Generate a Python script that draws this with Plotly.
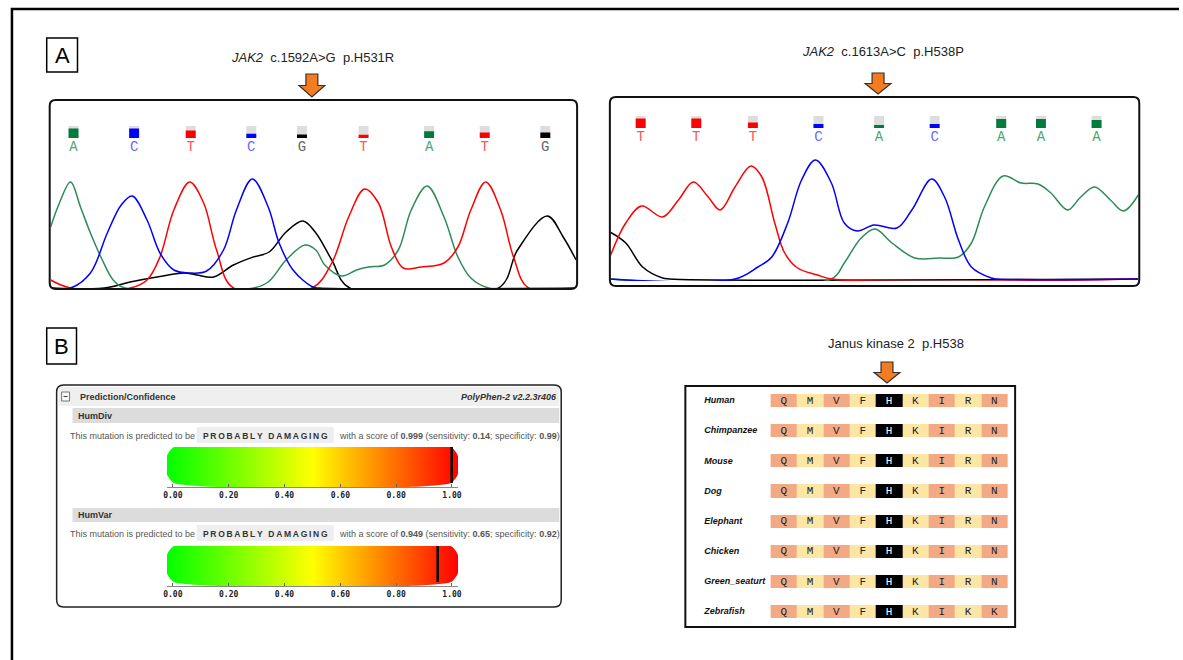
import plotly.graph_objects as go

W, H = 1183, 660
SANS = "Liberation Sans, Arial, sans-serif"
MONO = "Liberation Mono, Courier New, monospace"

# ---------------- Panel A, chromatogram 1 : JAK2 c.1592A>G p.H531R ----------------
c1_bases = ["A", "C", "T", "C", "G", "T", "A", "T", "G"]
c1_pos = [24, 85, 142, 203, 254, 316, 382, 438, 499]
c1_qual = [0.8, 0.8, 0.62, 0.35, 0.3, 0.27, 0.57, 0.46, 0.46]
c1_A_x = [1, 9, 21, 31, 41, 53, 64, 76, 205, 220, 238, 257, 268, 277, 294, 309, 321, 337, 351, 364, 380, 397, 411, 424, 442, 530]
c1_A_y = [61, 83, 106, 81, 55, 28, 8, 0, 0, 6, 28, 43, 38, 23, 12, 18, 21, 23, 38, 78, 102, 71, 31, 10, 0, 0]
c1_C_x = [1, 21, 41, 58, 72, 83, 98, 111, 125, 141, 158, 175, 188, 204, 220, 231, 245, 265, 272, 530]
c1_C_y = [0, 0, 15, 55, 83, 92, 68, 35, 18, 15, 17, 38, 78, 109, 81, 45, 18, 1, 0, 0]
c1_T_x = [1, 21, 81, 98, 111, 125, 141, 155, 168, 185, 264, 284, 301, 317, 331, 344, 356, 374, 397, 411, 424, 439, 454, 467, 482, 530]
c1_T_y = [8, 0, 0, 8, 31, 78, 106, 85, 38, 0, 0, 25, 71, 99, 85, 41, 20, 21, 25, 41, 78, 106, 78, 31, 0, 0]
c1_G_x = [1, 55, 81, 108, 135, 148, 165, 185, 205, 221, 238, 255, 268, 284, 302, 452, 471, 501, 517, 530]
c1_G_y = [0, 0, 6, 11, 15, 13, 11, 23, 31, 36, 56, 67, 55, 28, 0, 0, 38, 72, 51, 28]

# ---------------- Panel A, chromatogram 2 : JAK2 c.1613A>C p.H538P ----------------
c2_bases = ["T", "T", "T", "C", "A", "C", "A", "A", "A"]
c2_pos = [31, 87, 144, 210, 271, 327, 394, 434, 490]
c2_qual = [0.79, 0.79, 0.45, 0.34, 0.26, 0.34, 0.74, 0.74, 0.66]
c2_A_x = [0, 223, 236, 253, 267, 284, 307, 331, 351, 364, 377, 396, 414, 431, 444, 461, 474, 488, 504, 517, 532]
c2_A_y = [0, 0, 16, 41, 50, 36, 21, 21, 22, 36, 72, 103, 96, 95, 86, 69, 82, 92, 79, 68, 84]
c2_C_x = [0, 126, 149, 163, 179, 193, 207, 223, 236, 249, 266, 289, 304, 324, 337, 351, 364, 384, 390, 532]
c2_C_y = [0, 0, 12, 22, 56, 99, 119, 96, 56, 48, 54, 51, 69, 100, 82, 39, 12, 1, 0, 0]
c2_T_x = [0, 16, 32, 53, 69, 84, 99, 111, 126, 142, 153, 166, 176, 189, 209, 223, 532]
c2_T_y = [22, 56, 73, 62, 79, 97, 82, 69, 92, 113, 102, 56, 26, 11, 4, 0, 0]
c2_G_x = [0, 16, 33, 53, 60, 532]
c2_G_y = [47, 36, 12, 1, 0, 0]

# ---------------- Panel B, PolyPhen-2 ----------------
pp_names = ["HumDiv", "HumVar"]
pp_scores = [0.999, 0.949]
pp_sens = [0.14, 0.65]
pp_spec = [0.99, 0.92]
pp_call = ["PROBABLY DAMAGING", "PROBABLY DAMAGING"]
pp_ticks = [0.0, 0.2, 0.4, 0.6, 0.8, 1.0]

# ---------------- Panel B, conservation ----------------
aln_species = ["Human", "Chimpanzee", "Mouse", "Dog", "Elephant", "Chicken", "Green_seaturt", "Zebrafish"]
aln_positions = [534, 535, 536, 537, 538, 539, 540, 541, 542]
aln_seqs = ["QMVFHKIRN", "QMVFHKIRN", "QMVFHKIRN", "QMVFHKIRN",
            "QMVFHKIRN", "QMVFHKIRN", "QMVFHKIRN", "QMVFHKIKK"]
aln_col_class = [0, 1, 0, 1, 2, 1, 0, 1, 0]   # 0 salmon, 1 pale yellow, 2 highlighted site

TRACE_COL = {"A": "#2e8b57", "C": "#0000ff", "T": "#ff0000", "G": "#000000"}
SQ_COL = {"A": "#007a3d", "C": "#0000ff", "T": "#ff0000", "G": "#000000"}
LET_COL = {"A": "#4aa872", "C": "#6a6aff", "T": "#ff5555", "G": "#666666"}


def dx(px):
    return px / W


def dy(px):
    return 1 - px / H


def rrect(x0, y0, x1, y1, r):
    return (f"M{x0 + r},{y0} L{x1 - r},{y0} Q{x1},{y0} {x1},{y0 + r} L{x1},{y1 - r} "
            f"Q{x1},{y1} {x1 - r},{y1} L{x0 + r},{y1} Q{x0},{y1} {x0},{y1 - r} "
            f"L{x0},{y0 + r} Q{x0},{y0} {x0 + r},{y0} Z")


def arrow(cx, top, tip):
    hw, sw, hy = 13, 6, top + (tip - top) * 0.5
    return (f"M{cx - sw},{top} L{cx + sw},{top} L{cx + sw},{hy} L{cx + hw},{hy} "
            f"L{cx},{tip} L{cx - hw},{hy} L{cx - sw},{hy} Z")


fig = go.Figure()
# invisible canvas subplot (pixel coordinates) for frames and labels
fig.add_trace(go.Scatter(x=[None], y=[None], xaxis="x", yaxis="y", showlegend=False, hoverinfo="skip"))

shapes = []
annos = []


def chromatogram(xa, ya, ya_strip, bases, pos, qual, tr):
    for b in ["G", "A", "T", "C"]:
        xs, ys = tr[b]
        fig.add_trace(go.Scatter(x=xs, y=ys, xaxis=xa, yaxis=ya, mode="lines",
                                 line=dict(color=TRACE_COL[b], width=1.5, shape="spline", smoothing=1.0),
                                 showlegend=False, hoverinfo="skip"))
    fig.add_trace(go.Bar(x=pos, y=[1] * len(pos), xaxis=xa, yaxis=ya_strip, width=10,
                         marker=dict(color="#dddddd", line=dict(width=0)), showlegend=False, hoverinfo="skip"))
    fig.add_trace(go.Bar(x=pos, y=qual, xaxis=xa, yaxis=ya_strip, width=10,
                         marker=dict(color=[SQ_COL[b] for b in bases], line=dict(width=0)),
                         showlegend=False, hoverinfo="skip"))
    fig.add_trace(go.Scatter(x=pos, y=[-0.8] * len(pos), xaxis=xa, yaxis=ya_strip, mode="text",
                             text=bases, textfont=dict(family=MONO, size=14, color=[LET_COL[b] for b in bases]),
                             showlegend=False, hoverinfo="skip"))


chromatogram("x2", "y2", "y3", c1_bases, c1_pos, c1_qual,
             {"A": (c1_A_x, c1_A_y), "C": (c1_C_x, c1_C_y), "T": (c1_T_x, c1_T_y), "G": (c1_G_x, c1_G_y)})
chromatogram("x4", "y4", "y5", c2_bases, c2_pos, c2_qual,
             {"A": (c2_A_x, c2_A_y), "C": (c2_C_x, c2_C_y), "T": (c2_T_x, c2_T_y), "G": (c2_G_x, c2_G_y)})

# PolyPhen gradient bars
pp_axes = [("x6", "y6"), ("x7", "y7")]
for (xa, ya), s in zip(pp_axes, pp_scores):
    x0, x1 = -0.0214, 1.0214
    cx, cy = 0.025, 0.25
    fig.add_trace(go.Scatter(
        x=[x0 + cx, x1 - cx, x1, x1, x1 - cx, x0 + cx, x0, x0, x0 + cx],
        y=[0, 0, cy, 1 - cy, 1, 1, 1 - cy, cy, 0],
        xaxis=xa, yaxis=ya, mode="lines", fill="toself",
        line=dict(width=0, shape="spline", smoothing=0.6),
        fillgradient=dict(type="horizontal",
                          colorscale=[[0, "#00ff00"], [0.5, "#ffff00"], [1, "#ff0000"]]),
        showlegend=False, hoverinfo="skip"))
    fig.add_trace(go.Scatter(x=[s, s], y=[0, 1], xaxis=xa, yaxis=ya, mode="lines",
                             line=dict(color="#000000", width=2.5), showlegend=False, hoverinfo="skip"))

# alignment
cs = [[0, "#f3aa84"], [0.333, "#f3aa84"], [0.333, "#fde5a4"], [0.667, "#fde5a4"], [0.667, "#000000"], [1, "#000000"]]
fig.add_trace(go.Heatmap(z=[aln_col_class for _ in aln_species], x=aln_positions, y=aln_species,
                         xaxis="x8", yaxis="y8", colorscale=cs, zmin=0, zmax=2, showscale=False,
                         xgap=0, ygap=17, hoverinfo="skip"))
tx, ty, tt, tc = [], [], [], []
for sp, seq in zip(aln_species, aln_seqs):
    for p, aa, k in zip(aln_positions, seq, aln_col_class):
        tx.append(p); ty.append(sp); tt.append(aa); tc.append("#ffffff" if k == 2 else "#222222")
fig.add_trace(go.Scatter(x=tx, y=ty, xaxis="x8", yaxis="y8", mode="text", text=tt,
                         textfont=dict(family=MONO, size=11, color=tc), showlegend=False, hoverinfo="skip"))
fig.add_trace(go.Scatter(x=[530.98] * len(aln_species), y=aln_species, xaxis="x8", yaxis="y8", mode="text",
                         text=[f"<b><i>{s}</i></b>" for s in aln_species], textposition="middle right",
                         textfont=dict(family=SANS, size=9, color="#111"),
                         showlegend=False, hoverinfo="skip"))


# ---------------- shapes (frames, arrows) ----------------
def S(**k):
    d = dict(xref="x", yref="y")
    d.update(k)
    shapes.append(d)


S(type="rect", x0=8, y0=9, x1=1200, y1=690, line=dict(color="#000", width=2.5))
S(type="rect", x0=43, y0=38, x1=74, y1=72, line=dict(color="#000", width=1.5))
S(type="rect", x0=43, y0=328, x1=73, y1=364, line=dict(color="#000", width=1.5))
S(type="path", path=rrect(46, 100, 577, 289, 6), line=dict(color="#111", width=2))
S(type="path", path=rrect(610, 97, 1143, 286, 6), line=dict(color="#111", width=2))
for cx, top, tip in [(310, 74, 97), (880, 73, 94), (889, 362, 383)]:
    S(type="path", path=arrow(cx, top, tip), fillcolor="#f47b20", line=dict(color="#333", width=1.2))

# PolyPhen panel frame
S(type="rect", x0=55, y0=387, x1=559, y1=406, fillcolor="#efefef", line=dict(width=0), layer="below")
S(type="rect", x0=69, y0=408, x1=559, y1=423, fillcolor="#dcdcdc", line=dict(width=0), layer="below")
S(type="rect", x0=69, y0=508, x1=559, y1=522, fillcolor="#dcdcdc", line=dict(width=0), layer="below")
S(type="rect", x0=194, y0=427, x1=332, y1=443, fillcolor="#eeeeee", line=dict(width=0), layer="below")
S(type="rect", x0=194, y0=525, x1=332, y1=541, fillcolor="#eeeeee", line=dict(width=0), layer="below")
S(type="rect", x0=58, y0=392, x1=66, y1=401, fillcolor="#f8f8f8", line=dict(color="#777", width=1))
S(type="line", x0=60, y0=396.5, x1=64, y1=396.5, line=dict(color="#444", width=1))
S(type="path", path=rrect(53, 385, 561, 607, 7), line=dict(color="#222", width=1.5))
# alignment frame
S(type="rect", x0=686, y0=386, x1=1018, y1=627, line=dict(color="#111", width=2))


def A(x, y, text, size, xanchor="center", family=SANS, color="#222"):
    annos.append(dict(x=x, y=y, xref="x", yref="y", text=text, showarrow=False, xanchor=xanchor,
                      yanchor="middle", font=dict(family=family, size=size, color=color)))


A(58.5, 55.5, "A", 22, color="#000")
A(58, 346.5, "B", 22, color="#000")
A(311, 57, "<i>JAK2</i>&nbsp; c.1592A&gt;G&nbsp; p.H531R", 13)
A(884.5, 51, "<i>JAK2</i>&nbsp; c.1613A&gt;C&nbsp; p.H538P", 13)
A(898, 343, "Janus kinase 2&nbsp; p.H538", 13)
A(75, 397, "<b>Prediction/Confidence</b>", 9, xanchor="left", color="#333")
A(559, 397, "<b><i>PolyPhen-2 v2.2.3r406</i></b>", 9, xanchor="right", color="#333")
for name, s, se, sp, call, yr, ys in zip(pp_names, pp_scores, pp_sens, pp_spec, pp_call, [416, 515], [435.5, 533.5]):
    A(72, yr, f"<b>{name}</b>", 9, xanchor="left", color="#333")
    A(64, ys, "This mutation is predicted to be", 9, xanchor="left", color="#555")
    A(263, ys, "<b>" + "\u2009".join(call) + "</b>", 8.5, color="#333")
    A(335, ys, f"with a score of <b>{s:.3f}</b> (sensitivity: <b>{se:.2f}</b>; specificity: <b>{sp:.2f}</b>)",
      9, xanchor="left", color="#555")

layout = dict(
    width=W, height=H, margin=dict(l=0, r=0, t=0, b=0), paper_bgcolor="white", plot_bgcolor="rgba(0,0,0,0)",
    showlegend=False, barmode="overlay", shapes=shapes, annotations=annos,
    xaxis=dict(domain=[0, 1], range=[0, W], visible=False, anchor="y"),
    yaxis=dict(domain=[0, 1], range=[H, 0], visible=False, anchor="x"),
    # chromatogram 1
    xaxis2=dict(domain=[dx(47), dx(576)], range=[1, 530], visible=False, anchor="y2"),
    yaxis2=dict(domain=[dy(288), dy(150)], range=[0, 138], visible=False, anchor="x2"),
    yaxis3=dict(domain=[dy(156), dy(126)], range=[-1.5, 1], visible=False, anchor="x2"),
    # chromatogram 2
    xaxis4=dict(domain=[dx(611), dx(1142)], range=[1, 532], visible=False, anchor="y4"),
    yaxis4=dict(domain=[dy(281), dy(150)], range=[-2, 129], visible=False, anchor="x4"),
    yaxis5=dict(domain=[dy(146), dy(116)], range=[-1.5, 1], visible=False, anchor="x4"),
    # alignment
    xaxis8=dict(domain=[dx(686), dx(1018)], range=[530.26, 542.79], visible=False, anchor="y8"),
    yaxis8=dict(domain=[dy(627), dy(386)], range=[7.5, -0.5], visible=False, anchor="x8",
                type="category", categoryorder="array", categoryarray=aln_species),
)
for i, (xa, ya) in enumerate(pp_axes):
    top = [447, 546][i]
    layout["xaxis" + xa[1:]] = dict(
        domain=[dx(164), dx(457)], range=[-0.0214, 1.0214], anchor=ya, tickvals=pp_ticks, tickformat=".2f",
        showline=True, linecolor="#888", linewidth=1, ticks="inside", ticklen=3, tickcolor="#666",
        showgrid=False, zeroline=False,
        tickfont=dict(family="DejaVu Sans Mono", size=8, color="#222", weight="bold"))
    layout["yaxis" + ya[1:]] = dict(domain=[dy(top + 40), dy(top)], range=[-0.111, 1], visible=False, anchor=xa)

fig.update_layout(**layout)
fig.write_html("out.html", config={"displayModeBar": False},
               post_script="document.body.style.margin='0px';")
